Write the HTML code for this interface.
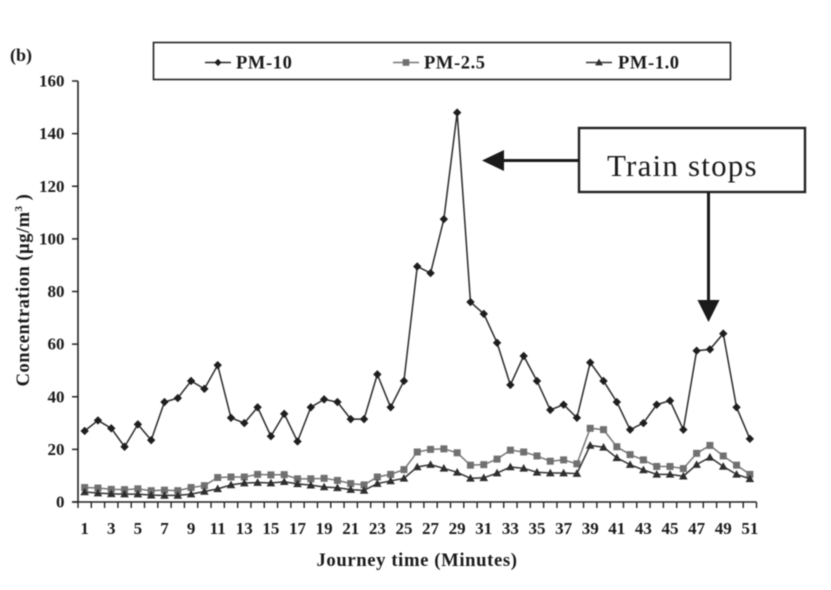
<!DOCTYPE html>
<html>
<head>
<meta charset="utf-8">
<style>
html,body{margin:0;padding:0;background:#fff;}
svg{display:block;}
text{font-family:"Liberation Serif",serif;fill:#1a1a1a;}
.b{font-weight:bold;}
</style>
</head>
<body>
<svg id="chart" width="831" height="590" viewBox="0 0 831 590" xmlns="http://www.w3.org/2000/svg">
<g id="root" style="filter:blur(0.45px)">
<text class="b" x="10" y="61" font-size="18">(b)</text>
<rect x="153.5" y="42.5" width="577" height="37" fill="#fff" stroke="#222" stroke-width="1.6"/>
<g id="legend"></g>
<line x1="78" y1="81" x2="78" y2="502.5" stroke="#222" stroke-width="1.6"/>
<line x1="72" y1="502" x2="756.5" y2="502" stroke="#222" stroke-width="1.6"/>
<g id="axes"></g>
<g id="series"></g>
<text class="b" x="417" y="566" font-size="18.7" letter-spacing="0.6" text-anchor="middle">Journey time (Minutes)</text>
<text class="b" transform="translate(29,290) rotate(-90)" font-size="18.5" letter-spacing="0.5" text-anchor="middle">Concentration (µg/m<tspan font-size="11" dy="-7">3</tspan><tspan dy="7"> )</tspan></text>
<rect x="579" y="128" width="226" height="64" fill="#fff" stroke="#222" stroke-width="2.4"/>
<text x="607" y="176" font-size="31" letter-spacing="1.2">Train stops</text>
<line x1="579" y1="160.5" x2="502" y2="160.5" stroke="#1a1a1a" stroke-width="3"/>
<polygon points="482,160.5 504,150 504,171" fill="#1a1a1a"/>
<line x1="708.5" y1="192" x2="708.5" y2="302" stroke="#1a1a1a" stroke-width="3"/>
<polygon points="708.5,322 697.5,300 719.5,300" fill="#1a1a1a"/>
</g>
</svg>
<script>
var minutes = [1,2,3,4,5,6,7,8,9,10,11,12,13,14,15,16,17,18,19,20,21,22,23,24,25,26,27,28,29,30,31,32,33,34,35,36,37,38,39,40,41,42,43,44,45,46,47,48,49,50,51];
var pm10 = [27,31,28,21,29.5,23.5,38,39.5,46,43,52,32,30,36,25,33.5,23,36,39,38,31.5,31.5,48.5,36,46,89.5,87,107.5,148,76,71.5,60.5,44.5,55.5,46,35,37,32,53,46,38,27.5,30,37,38.5,27.5,57.5,58,64,36,24];
var pm25 = [5.5,5.3,4.8,4.7,5,4.3,4.5,4.3,5.5,6.2,9.3,9.5,9.5,10.5,10.3,10.4,8.8,8.8,9,8.2,7,6.5,9.5,10.5,12.3,19,20,20.2,18.7,14,14.2,16.3,19.7,19,17.5,15.5,16,14.5,28,27.5,21,18,16,13.5,13.5,12.7,18.5,21.5,17.5,14,10.5];
var pm1 = [3.8,3.4,3.1,3,3,2.6,2.5,2.5,3,4,5,6.5,7.2,7.4,7.2,7.7,6.9,6.4,5.7,5.4,4.7,4.4,7,8,9,13.3,14.2,12.8,11.3,9,9.2,11,13.3,12.8,11.3,11,11,10.8,21.5,20.8,16.8,14.2,12.2,10.5,10.5,9.8,14.2,17,13.5,10.5,8.8];
var yTicks = [0,20,40,60,80,100,120,140,160];

var NS = 'http://www.w3.org/2000/svg';
function xScale(m){ return 78 + (m - 0.5) * (678.5 / 51); }
function yScale(v){ return 502 - v * (421 / 160); }
function mk(parent, tag, attrs){
  var el = document.createElementNS(NS, tag);
  for (var k in attrs) el.setAttribute(k, attrs[k]);
  parent.appendChild(el);
  return el;
}
function marker(parent, kind, x, y, color, size){
  var s = size, el;
  if (kind === 'diamond') {
    el = mk(parent, 'polygon', {points: x+','+(y-s)+' '+(x+s)+','+y+' '+x+','+(y+s)+' '+(x-s)+','+y, fill: color});
  } else if (kind === 'square') {
    el = mk(parent, 'rect', {x: x-s, y: y-s, width: 2*s, height: 2*s, fill: color});
  } else {
    el = mk(parent, 'polygon', {points: x+','+(y-s-0.5)+' '+(x+s+0.5)+','+(y+s-0.5)+' '+(x-s-0.5)+','+(y+s-0.5), fill: color});
  }
  return el;
}

var axes = document.getElementById('axes');
yTicks.forEach(function(v){
  var t = mk(axes, 'line', {x1: 72, x2: 78, y1: yScale(v), y2: yScale(v), stroke: '#222', 'stroke-width': 1.5});
  
  
  var l = mk(axes, 'text', {x: 64.5, y: yScale(v) + 5.5, 'font-size': 17, 'text-anchor': 'end', 'class': 'b'});
  
  
  l.textContent = v;
});
for (var i = 0; i <= minutes.length; i++) {
  var tx = xScale(i + 0.5);
  var t = mk(axes, 'line', {x1: tx, x2: tx, y1: 502, y2: 508, stroke: '#222', 'stroke-width': 1.4});
  
  
}
minutes.forEach(function(m, i){
  if (i % 2) return;
  var l = mk(axes, 'text', {x: xScale(m), y: 534, 'font-size': 17, 'text-anchor': 'middle', 'class': 'b'});
  
  
  l.textContent = m;
});

var seriesRoot = document.getElementById('series');
function drawSeries(name, values, kind, lineColor, markColor, size){
  var g = mk(seriesRoot, 'g', {});
  
  
  var pts = values.map(function(v, i){ return xScale(minutes[i]) + ',' + yScale(v); }).join(' ');
  var line = mk(g, 'polyline', {points: pts, fill: 'none', stroke: lineColor, 'stroke-width': 1.5});
  
  
  values.forEach(function(v, i){
    var p = marker(g, kind, xScale(minutes[i]), yScale(v), markColor, size);
    
    
  });
}
drawSeries('pm-10', pm10, 'diamond', '#2a2a2a', '#1e1e1e', 4.2);
drawSeries('pm-2-5', pm25, 'square', '#777', '#707070', 3.5);
drawSeries('pm-1-0', pm1, 'triangle', '#333', '#2e2e2e', 3.8);

var legend = document.getElementById('legend');
function legendEntry(name, label, kind, lineColor, markColor, size, x1, x2, tx){
  var g = mk(legend, 'g', {});
  
  
  mk(g, 'line', {x1: x1, x2: x2, y1: 62.5, y2: 62.5, stroke: lineColor, 'stroke-width': 1.4});
  marker(g, kind, (x1 + x2) / 2, 62.5, markColor, size);
  var t = mk(g, 'text', {x: tx, y: 68.5, 'font-size': 18.5, 'letter-spacing': 0.6, 'class': 'b'});
  t.textContent = label;
}
legendEntry('pm-10', 'PM-10', 'diamond', '#2a2a2a', '#1e1e1e', 3.6, 205, 231, 236);
legendEntry('pm-2-5', 'PM-2.5', 'square', '#777', '#707070', 3.3, 393, 419, 424);
legendEntry('pm-1-0', 'PM-1.0', 'triangle', '#333', '#2e2e2e', 3.4, 586, 612, 618);
</script>
</body>
</html>
